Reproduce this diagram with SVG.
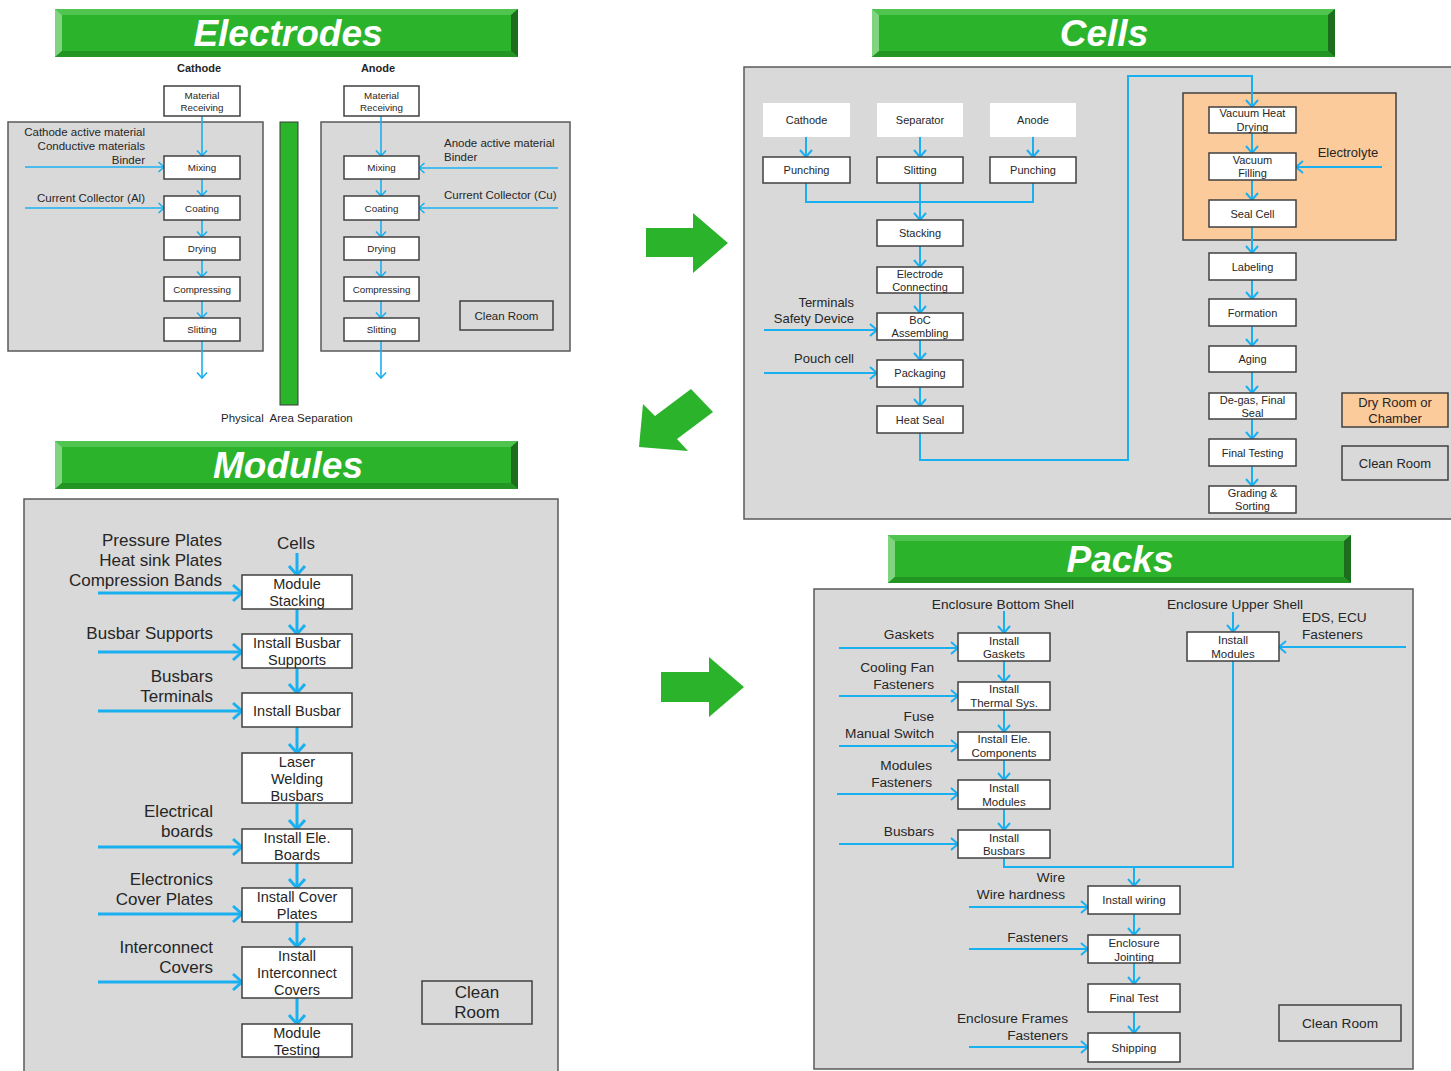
<svg xmlns="http://www.w3.org/2000/svg" width="1451" height="1071" viewBox="0 0 1451 1071">
  <style>
    text { font-family: "Liberation Sans", Arial, sans-serif; fill: #262626; }
    .c { text-anchor: middle; }
    .e { text-anchor: end; }
    .s { text-anchor: start; }
    .title { font-size: 37px; font-weight: bold; font-style: italic; fill: #ffffff; text-anchor: middle; }
    .panel { fill: #d9d9d9; stroke: #595959; stroke-width: 1.5; }
    .box { fill: #ffffff; stroke: #404040; stroke-width: 1.5; }
    .src { fill: #ffffff; stroke: none; }
    .dry { fill: #fbcb9b; stroke: #404040; stroke-width: 1.5; }
    .f1 { fill: none; stroke: #1ab0ef; stroke-width: 1.6; }
    .f2 { fill: none; stroke: #1ab0ef; stroke-width: 2; }
    .f3 { fill: none; stroke: #1ab0ef; stroke-width: 3; }
    .a1 { marker-end: url(#hs); }
    .a2 { marker-end: url(#hm); }
    .a3 { marker-end: url(#hl); }
    .big { fill: #2bb32b; }
    .t9 { font-size: 9.8px; }
    .t11 { font-size: 11px; }
    .t115e { font-size: 11.5px; }
    .t11b { font-size: 11px; font-weight: bold; }
    .t115 { font-size: 11.5px; }
    .t13 { font-size: 13px; }
    .t135 { font-size: 13.7px; }
    .t14 { font-size: 14.5px; }
    .t17 { font-size: 17px; }
  </style>
  <defs>
    <marker id="hs" markerUnits="userSpaceOnUse" markerWidth="12" markerHeight="12" refX="10" refY="6" orient="auto" overflow="visible">
      <path d="M4.5,1 L10,6 L4.5,11" fill="none" stroke="#1ab0ef" stroke-width="1.6"/>
    </marker>
    <marker id="hm" markerUnits="userSpaceOnUse" markerWidth="16" markerHeight="16" refX="12" refY="8" orient="auto" overflow="visible">
      <path d="M5,2 L12,8 L5,14" fill="none" stroke="#1ab0ef" stroke-width="2"/>
    </marker>
    <marker id="hl" markerUnits="userSpaceOnUse" markerWidth="20" markerHeight="20" refX="14" refY="10" orient="auto" overflow="visible">
      <path d="M5,2 L14,10 L5,18" fill="none" stroke="#1ab0ef" stroke-width="3"/>
    </marker>
    <!-- bevelled green banner, 463 x 48 -->
    <g id="banner">
      <rect x="0" y="0" width="463" height="48" fill="#2bb32b"/>
      <polygon points="0,0 463,0 456,6 7,6" fill="#4fc44f"/>
      <polygon points="0,0 7,6 7,42 0,48" fill="#80d480"/>
      <polygon points="463,0 463,48 456,42 456,6" fill="#1c6e1c"/>
      <polygon points="0,48 463,48 456,42 7,42" fill="#229522"/>
    </g>
  </defs>

  <rect width="1451" height="1071" fill="#ffffff"/>

  <!-- ===== section headings ===== -->
  <g id="heading-electrodes"><use href="#banner" x="55" y="9"/><text class="title" x="288" y="46">Electrodes</text></g>
  <g id="heading-cells"><use href="#banner" x="872" y="9"/><text class="title" x="1104" y="46">Cells</text></g>
  <g id="heading-modules"><use href="#banner" x="55" y="441"/><text class="title" x="288" y="478">Modules</text></g>
  <g id="heading-packs"><use href="#banner" x="888" y="535"/><text class="title" x="1120" y="572">Packs</text></g>

  <!-- ===== area backgrounds ===== -->
  <g id="areas">
    <rect class="panel" x="8" y="122" width="255" height="229"/>
    <rect class="panel" x="321" y="122" width="249" height="229"/>
    <rect class="panel" x="744" y="67" width="712" height="452"/>
    <rect class="dry" x="1183" y="93" width="213" height="147"/>
    <rect class="panel" x="24" y="499" width="534" height="580"/>
    <rect class="panel" x="814" y="589" width="599" height="480"/>
  </g>

  <!-- ===== stage arrows ===== -->
  <g id="stage-arrows">
    <polygon class="big" points="646,228 693,228 693,213 728,243 693,273 693,257 646,257"/>
    <polygon class="big" points="639,447 643,404 655,416 691,389 713,412 677,439 688,451"/>
    <polygon class="big" points="661,672 709,672 709,657 744,687 709,717 709,702 661,702"/>
  </g>

  <!-- ===== connectors ===== -->
  <g id="connectors">
    <!-- electrodes: cathode line -->
    <line class="f1 a1" x1="202" y1="116" x2="202" y2="156"/>
    <line class="f1 a1" x1="202" y1="179" x2="202" y2="196"/>
    <line class="f1 a1" x1="202" y1="220" x2="202" y2="237"/>
    <line class="f1 a1" x1="202" y1="260" x2="202" y2="277"/>
    <line class="f1 a1" x1="202" y1="301" x2="202" y2="318"/>
    <line class="f1 a1" x1="202" y1="341" x2="202" y2="378"/>
    <line class="f1 a1" x1="25" y1="167" x2="164" y2="167"/>
    <line class="f1 a1" x1="25" y1="208" x2="164" y2="208"/>
    <!-- electrodes: anode line -->
    <line class="f1 a1" x1="381" y1="116" x2="381" y2="156"/>
    <line class="f1 a1" x1="381" y1="179" x2="381" y2="196"/>
    <line class="f1 a1" x1="381" y1="220" x2="381" y2="237"/>
    <line class="f1 a1" x1="381" y1="260" x2="381" y2="277"/>
    <line class="f1 a1" x1="381" y1="301" x2="381" y2="318"/>
    <line class="f1 a1" x1="381" y1="341" x2="381" y2="378"/>
    <line class="f1 a1" x1="558" y1="168" x2="419" y2="168"/>
    <line class="f1 a1" x1="558" y1="208" x2="419" y2="208"/>

    <!-- cells -->
    <line class="f2 a2" x1="806" y1="137" x2="806" y2="157"/>
    <line class="f2 a2" x1="920" y1="137" x2="920" y2="157"/>
    <line class="f2 a2" x1="1033" y1="137" x2="1033" y2="157"/>
    <polyline class="f2" points="806,183 806,202 1033,202 1033,183"/>
    <line class="f2 a2" x1="920" y1="183" x2="920" y2="220"/>
    <line class="f2 a2" x1="920" y1="246" x2="920" y2="267"/>
    <line class="f2 a2" x1="920" y1="293" x2="920" y2="313"/>
    <line class="f2 a2" x1="920" y1="340" x2="920" y2="360"/>
    <line class="f2 a2" x1="920" y1="387" x2="920" y2="406"/>
    <line class="f2 a2" x1="764" y1="330" x2="877" y2="330"/>
    <line class="f2 a2" x1="764" y1="373" x2="877" y2="373"/>
    <polyline class="f2 a2" points="920,433 920,460 1128,460 1128,76 1252,76 1252,107"/>
    <line class="f2 a2" x1="1252" y1="133" x2="1252" y2="153"/>
    <line class="f2 a2" x1="1252" y1="180" x2="1252" y2="200"/>
    <line class="f2 a2" x1="1252" y1="227" x2="1252" y2="253"/>
    <line class="f2 a2" x1="1252" y1="280" x2="1252" y2="299"/>
    <line class="f2 a2" x1="1252" y1="326" x2="1252" y2="346"/>
    <line class="f2 a2" x1="1252" y1="372" x2="1252" y2="393"/>
    <line class="f2 a2" x1="1252" y1="419" x2="1252" y2="439"/>
    <line class="f2 a2" x1="1252" y1="466" x2="1252" y2="486"/>
    <line class="f2 a2" x1="1382" y1="167" x2="1296" y2="167"/>

    <!-- modules -->
    <line class="f3 a3" x1="297" y1="553" x2="297" y2="575"/>
    <line class="f3 a3" x1="297" y1="609" x2="297" y2="634"/>
    <line class="f3 a3" x1="297" y1="668" x2="297" y2="693"/>
    <line class="f3 a3" x1="297" y1="727" x2="297" y2="753"/>
    <line class="f3 a3" x1="297" y1="803" x2="297" y2="829"/>
    <line class="f3 a3" x1="297" y1="863" x2="297" y2="888"/>
    <line class="f3 a3" x1="297" y1="922" x2="297" y2="947"/>
    <line class="f3 a3" x1="297" y1="998" x2="297" y2="1024"/>
    <line class="f3 a3" x1="98" y1="593" x2="242" y2="593"/>
    <line class="f3 a3" x1="98" y1="652" x2="242" y2="652"/>
    <line class="f3 a3" x1="98" y1="711" x2="242" y2="711"/>
    <line class="f3 a3" x1="98" y1="847" x2="242" y2="847"/>
    <line class="f3 a3" x1="98" y1="914" x2="242" y2="914"/>
    <line class="f3 a3" x1="98" y1="982" x2="242" y2="982"/>

    <!-- packs -->
    <line class="f2 a2" x1="1004" y1="611" x2="1004" y2="633"/>
    <line class="f2 a2" x1="1004" y1="661" x2="1004" y2="682"/>
    <line class="f2 a2" x1="1004" y1="710" x2="1004" y2="732"/>
    <line class="f2 a2" x1="1004" y1="760" x2="1004" y2="780"/>
    <line class="f2 a2" x1="1004" y1="809" x2="1004" y2="830"/>
    <line class="f2 a2" x1="839" y1="648" x2="958" y2="648"/>
    <line class="f2 a2" x1="839" y1="696" x2="958" y2="696"/>
    <line class="f2 a2" x1="839" y1="746" x2="958" y2="746"/>
    <line class="f2 a2" x1="837" y1="794" x2="958" y2="794"/>
    <line class="f2 a2" x1="839" y1="844" x2="958" y2="844"/>
    <line class="f2 a2" x1="1233" y1="612" x2="1233" y2="632"/>
    <line class="f2 a2" x1="1406" y1="647" x2="1279" y2="647"/>
    <polyline class="f2" points="1004,858 1004,867 1233,867 1233,661"/>
    <line class="f2 a2" x1="1134" y1="867" x2="1134" y2="886"/>
    <line class="f2 a2" x1="1134" y1="914" x2="1134" y2="935"/>
    <line class="f2 a2" x1="1134" y1="963" x2="1134" y2="984"/>
    <line class="f2 a2" x1="1134" y1="1012" x2="1134" y2="1033"/>
    <line class="f2 a2" x1="969" y1="907" x2="1088" y2="907"/>
    <line class="f2 a2" x1="969" y1="949" x2="1088" y2="949"/>
    <line class="f2 a2" x1="969" y1="1047" x2="1088" y2="1047"/>
  </g>

  <!-- ===== electrodes ===== -->
  <g id="electrodes-labels">
    <text class="c t11b" x="199" y="72">Cathode</text>
    <text class="c t11b" x="378" y="72">Anode</text>
    <text class="e t115e" x="145" y="136">Cathode active material</text>
    <text class="e t115e" x="145" y="150">Conductive materials</text>
    <text class="e t115e" x="145" y="164">Binder</text>
    <text class="e t115e" x="145" y="202">Current Collector (Al)</text>
    <text class="s t115e" x="444" y="147">Anode active material</text>
    <text class="s t115e" x="444" y="161">Binder</text>
    <text class="s t115e" x="444" y="199">Current Collector (Cu)</text>
  </g>
  <g id="separation">
    <rect x="280" y="122" width="18" height="283" fill="#2bb32b" stroke="#3a3a3a" stroke-width="1"/>
    <text class="s t115e" x="221" y="422" style="white-space:pre">Physical  Area Separation</text>
  </g>
  <g id="cathode-receiving"><rect class="box" x="164" y="86" width="76" height="30"/><text class="c t9" x="202" y="98.5">Material</text><text class="c t9" x="202" y="110.5">Receiving</text></g>
  <g id="cathode-mixing"><rect class="box" x="164" y="156" width="76" height="23"/><text class="c t9" x="202" y="171">Mixing</text></g>
  <g id="cathode-coating"><rect class="box" x="164" y="196" width="76" height="24"/><text class="c t9" x="202" y="211.5">Coating</text></g>
  <g id="cathode-drying"><rect class="box" x="164" y="237" width="76" height="23"/><text class="c t9" x="202" y="252">Drying</text></g>
  <g id="cathode-compressing"><rect class="box" x="164" y="277" width="76" height="24"/><text class="c t9" x="202" y="292.5">Compressing</text></g>
  <g id="cathode-slitting"><rect class="box" x="164" y="318" width="76" height="23"/><text class="c t9" x="202" y="333">Slitting</text></g>
  <g id="anode-receiving"><rect class="box" x="344" y="86" width="75" height="30"/><text class="c t9" x="381.5" y="98.5">Material</text><text class="c t9" x="381.5" y="110.5">Receiving</text></g>
  <g id="anode-mixing"><rect class="box" x="344" y="156" width="75" height="23"/><text class="c t9" x="381.5" y="171">Mixing</text></g>
  <g id="anode-coating"><rect class="box" x="344" y="196" width="75" height="24"/><text class="c t9" x="381.5" y="211.5">Coating</text></g>
  <g id="anode-drying"><rect class="box" x="344" y="237" width="75" height="23"/><text class="c t9" x="381.5" y="252">Drying</text></g>
  <g id="anode-compressing"><rect class="box" x="344" y="277" width="75" height="24"/><text class="c t9" x="381.5" y="292.5">Compressing</text></g>
  <g id="anode-slitting"><rect class="box" x="344" y="318" width="75" height="23"/><text class="c t9" x="381.5" y="333">Slitting</text></g>
  <g id="electrodes-cleanroom"><rect x="460" y="301" width="93" height="29" fill="none" stroke="#404040" stroke-width="1.5"/><text class="c t115e" x="506.5" y="319.5">Clean Room</text></g>

  <!-- ===== cells ===== -->
  <g id="cell-src-cathode"><rect class="src" x="763" y="103" width="87" height="34"/><text class="c t11" x="806.5" y="124">Cathode</text></g>
  <g id="cell-src-separator"><rect class="src" x="877" y="103" width="86" height="34"/><text class="c t11" x="920" y="124">Separator</text></g>
  <g id="cell-src-anode"><rect class="src" x="990" y="103" width="86" height="34"/><text class="c t11" x="1033" y="124">Anode</text></g>
  <g id="cell-punch-cathode"><rect class="box" x="763" y="157" width="87" height="26"/><text class="c t11" x="806.5" y="174">Punching</text></g>
  <g id="cell-slit-separator"><rect class="box" x="877" y="157" width="86" height="26"/><text class="c t11" x="920" y="174">Slitting</text></g>
  <g id="cell-punch-anode"><rect class="box" x="990" y="157" width="86" height="26"/><text class="c t11" x="1033" y="174">Punching</text></g>
  <g id="cell-stacking"><rect class="box" x="877" y="220" width="86" height="26"/><text class="c t11" x="920" y="237">Stacking</text></g>
  <g id="cell-connecting"><rect class="box" x="877" y="267" width="86" height="26"/><text class="c t11" x="920" y="277.5">Electrode</text><text class="c t11" x="920" y="290.5">Connecting</text></g>
  <g id="cell-boc"><rect class="box" x="877" y="313" width="86" height="27"/><text class="c t11" x="920" y="324">BoC</text><text class="c t11" x="920" y="337">Assembling</text></g>
  <g id="cell-packaging"><rect class="box" x="877" y="360" width="86" height="27"/><text class="c t11" x="920" y="377">Packaging</text></g>
  <g id="cell-heatseal"><rect class="box" x="877" y="406" width="86" height="27"/><text class="c t11" x="920" y="424">Heat Seal</text></g>
  <g id="cell-inputs">
    <text class="e t13" x="854" y="306.5">Terminals</text>
    <text class="e t13" x="854" y="322.5">Safety Device</text>
    <text class="e t13" x="854" y="362.5">Pouch cell</text>
    <text class="c t13" x="1348" y="156.5">Electrolyte</text>
  </g>
  <g id="cell-vacdry"><rect class="box" x="1209" y="107" width="87" height="26"/><text class="c t11" x="1252.5" y="117">Vacuum Heat</text><text class="c t11" x="1252.5" y="131">Drying</text></g>
  <g id="cell-vacfill"><rect class="box" x="1209" y="153" width="87" height="27"/><text class="c t11" x="1252.5" y="164">Vacuum</text><text class="c t11" x="1252.5" y="177">Filling</text></g>
  <g id="cell-sealcell"><rect class="box" x="1209" y="200" width="87" height="27"/><text class="c t11" x="1252.5" y="217.5">Seal Cell</text></g>
  <g id="cell-labeling"><rect class="box" x="1209" y="253" width="87" height="27"/><text class="c t11" x="1252.5" y="270.5">Labeling</text></g>
  <g id="cell-formation"><rect class="box" x="1209" y="299" width="87" height="27"/><text class="c t11" x="1252.5" y="317">Formation</text></g>
  <g id="cell-aging"><rect class="box" x="1209" y="346" width="87" height="26"/><text class="c t11" x="1252.5" y="363">Aging</text></g>
  <g id="cell-degas"><rect class="box" x="1209" y="393" width="87" height="26"/><text class="c t11" x="1252.5" y="404">De-gas, Final</text><text class="c t11" x="1252.5" y="417">Seal</text></g>
  <g id="cell-finaltest"><rect class="box" x="1209" y="439" width="87" height="27"/><text class="c t11" x="1252.5" y="457">Final Testing</text></g>
  <g id="cell-grading"><rect class="box" x="1209" y="486" width="87" height="27"/><text class="c t11" x="1252.5" y="497">Grading &amp;</text><text class="c t11" x="1252.5" y="510">Sorting</text></g>
  <g id="cells-dryroom"><rect class="dry" x="1342" y="393" width="106" height="34"/><text class="c t13" x="1395" y="406.5">Dry Room or</text><text class="c t13" x="1395" y="422.5">Chamber</text></g>
  <g id="cells-cleanroom"><rect x="1342" y="446" width="106" height="34" fill="none" stroke="#404040" stroke-width="1.5"/><text class="c t13" x="1395" y="467.5">Clean Room</text></g>

  <!-- ===== modules ===== -->
  <g id="module-inputs">
    <text class="c t17" x="296" y="549">Cells</text>
    <text class="e t17" x="222" y="546">Pressure Plates</text>
    <text class="e t17" x="222" y="566">Heat sink Plates</text>
    <text class="e t17" x="222" y="586">Compression Bands</text>
    <text class="e t17" x="213" y="639">Busbar Supports</text>
    <text class="e t17" x="213" y="682">Busbars</text>
    <text class="e t17" x="213" y="702">Terminals</text>
    <text class="e t17" x="213" y="817">Electrical</text>
    <text class="e t17" x="213" y="837">boards</text>
    <text class="e t17" x="213" y="885">Electronics</text>
    <text class="e t17" x="213" y="905">Cover Plates</text>
    <text class="e t17" x="213" y="953">Interconnect</text>
    <text class="e t17" x="213" y="973">Covers</text>
  </g>
  <g id="mod-stacking"><rect class="box" x="242" y="575" width="110" height="34"/><text class="c t14" x="297" y="589">Module</text><text class="c t14" x="297" y="606">Stacking</text></g>
  <g id="mod-supports"><rect class="box" x="242" y="634" width="110" height="34"/><text class="c t14" x="297" y="648">Install Busbar</text><text class="c t14" x="297" y="665">Supports</text></g>
  <g id="mod-busbar"><rect class="box" x="242" y="693" width="110" height="34"/><text class="c t14" x="297" y="716">Install Busbar</text></g>
  <g id="mod-welding"><rect class="box" x="242" y="753" width="110" height="50"/><text class="c t14" x="297" y="767">Laser</text><text class="c t14" x="297" y="784">Welding</text><text class="c t14" x="297" y="801">Busbars</text></g>
  <g id="mod-eleboards"><rect class="box" x="242" y="829" width="110" height="34"/><text class="c t14" x="297" y="843">Install Ele.</text><text class="c t14" x="297" y="860">Boards</text></g>
  <g id="mod-cover"><rect class="box" x="242" y="888" width="110" height="34"/><text class="c t14" x="297" y="902">Install Cover</text><text class="c t14" x="297" y="919">Plates</text></g>
  <g id="mod-interconnect"><rect class="box" x="242" y="947" width="110" height="51"/><text class="c t14" x="297" y="961">Install</text><text class="c t14" x="297" y="978">Interconnect</text><text class="c t14" x="297" y="995">Covers</text></g>
  <g id="mod-testing"><rect class="box" x="242" y="1024" width="110" height="33"/><text class="c t14" x="297" y="1038">Module</text><text class="c t14" x="297" y="1055">Testing</text></g>
  <g id="modules-cleanroom"><rect x="422" y="981" width="110" height="43" fill="none" stroke="#404040" stroke-width="1.5"/><text class="c t17" x="477" y="998">Clean</text><text class="c t17" x="477" y="1018">Room</text></g>

  <!-- ===== packs ===== -->
  <g id="pack-inputs">
    <text class="c t135" x="1003" y="608.5">Enclosure Bottom Shell</text>
    <text class="c t135" x="1235" y="608.5">Enclosure Upper Shell</text>
    <text class="s t135" x="1302" y="621.5">EDS, ECU</text>
    <text class="s t135" x="1302" y="638.5">Fasteners</text>
    <text class="e t135" x="934" y="638.5">Gaskets</text>
    <text class="e t135" x="934" y="671.5">Cooling Fan</text>
    <text class="e t135" x="934" y="688.5">Fasteners</text>
    <text class="e t135" x="934" y="720.5">Fuse</text>
    <text class="e t135" x="934" y="737.5">Manual Switch</text>
    <text class="e t135" x="932" y="769.5">Modules</text>
    <text class="e t135" x="932" y="786.5">Fasteners</text>
    <text class="e t135" x="934" y="835.5">Busbars</text>
    <text class="e t135" x="1065" y="881.5">Wire</text>
    <text class="e t135" x="1065" y="898.5">Wire hardness</text>
    <text class="e t135" x="1068" y="941.5">Fasteners</text>
    <text class="e t135" x="1068" y="1022.5">Enclosure Frames</text>
    <text class="e t135" x="1068" y="1039.5">Fasteners</text>
  </g>
  <g id="pack-gaskets"><rect class="box" x="958" y="633" width="92" height="28"/><text class="c t115" x="1004" y="645">Install</text><text class="c t115" x="1004" y="658">Gaskets</text></g>
  <g id="pack-thermal"><rect class="box" x="958" y="682" width="92" height="28"/><text class="c t115" x="1004" y="693">Install</text><text class="c t115" x="1004" y="707">Thermal Sys.</text></g>
  <g id="pack-elecomp"><rect class="box" x="958" y="732" width="92" height="28"/><text class="c t115" x="1004" y="743">Install Ele.</text><text class="c t115" x="1004" y="757">Components</text></g>
  <g id="pack-modules"><rect class="box" x="958" y="780" width="92" height="29"/><text class="c t115" x="1004" y="792">Install</text><text class="c t115" x="1004" y="806">Modules</text></g>
  <g id="pack-busbars"><rect class="box" x="958" y="830" width="92" height="28"/><text class="c t115" x="1004" y="842">Install</text><text class="c t115" x="1004" y="855">Busbars</text></g>
  <g id="pack-upper-modules"><rect class="box" x="1187" y="632" width="92" height="29"/><text class="c t115" x="1233" y="644">Install</text><text class="c t115" x="1233" y="658">Modules</text></g>
  <g id="pack-wiring"><rect class="box" x="1088" y="886" width="92" height="28"/><text class="c t115" x="1134" y="904">Install wiring</text></g>
  <g id="pack-jointing"><rect class="box" x="1088" y="935" width="92" height="28"/><text class="c t115" x="1134" y="947">Enclosure</text><text class="c t115" x="1134" y="961">Jointing</text></g>
  <g id="pack-finaltest"><rect class="box" x="1088" y="984" width="92" height="28"/><text class="c t115" x="1134" y="1002">Final Test</text></g>
  <g id="pack-shipping"><rect class="box" x="1088" y="1033" width="92" height="29"/><text class="c t115" x="1134" y="1052">Shipping</text></g>
  <g id="packs-cleanroom"><rect x="1279" y="1005" width="122" height="36" fill="none" stroke="#404040" stroke-width="1.5"/><text class="c t135" x="1340" y="1027.5">Clean Room</text></g>
</svg>
